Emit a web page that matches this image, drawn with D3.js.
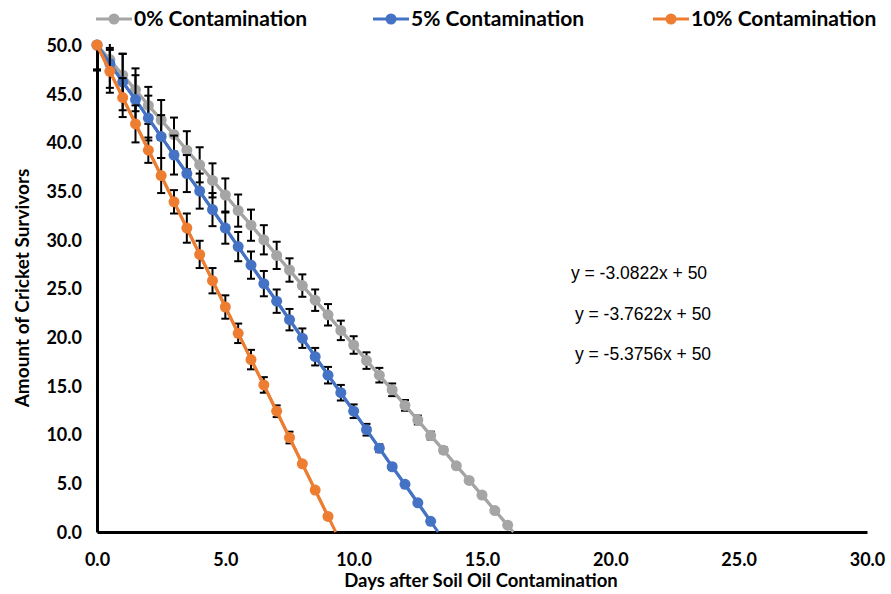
<!DOCTYPE html>
<html>
<head>
<meta charset="utf-8">
<script src="https://cdn.jsdelivr.net/npm/d3@7"></script>
<style>
  html, body { margin: 0; padding: 0; background: #fff; }
  svg { display: block; }
</style>
</head>
<body>
<script>
// ---------- DATA ----------
const seriesNames = ["0% Contamination", "5% Contamination", "10% Contamination"];
const seriesColors = ["#A5A5A5", "#4472C4", "#ED7D31"];

const days0 = [0,0.5,1,1.5,2,2.5,3,3.5,4,4.5,5,5.5,6,6.5,7,7.5,8,8.5,9,9.5,10,10.5,11,11.5,12,12.5,13,13.5,14,14.5,15,15.5,16];
const surv0 = [50.0,48.5,46.9,45.4,43.8,42.3,40.8,39.2,37.7,36.1,34.6,33.0,31.5,30.0,28.4,26.9,25.3,23.8,22.3,20.7,19.2,17.6,16.1,14.6,13.0,11.5,9.9,8.4,6.8,5.3,3.8,2.2,0.7];
const err0  = [2.6,1.2,2.2,2.2,1.9,2.05,1.75,1.95,1.8,1.75,1.7,1.65,1.6,1.5,1.4,1.2,1.15,1.1,1.1,1.0,0.9,0.85,0.75,0.65,0.55,0.45,0.4,0.3,0.2,0.15,0.1,0,0];

const days5 = [0,0.5,1,1.5,2,2.5,3,3.5,4,4.5,5,5.5,6,6.5,7,7.5,8,8.5,9,9.5,10,10.5,11,11.5,12,12.5,13];
const surv5 = [50.0,48.1,46.2,44.4,42.5,40.6,38.7,36.8,35.0,33.1,31.2,29.3,27.4,25.5,23.7,21.8,19.9,18.0,16.1,14.3,12.4,10.5,8.6,6.7,4.9,3.0,1.1];
const err5  = [2.5,2.5,2.9,2.5,2.3,2.2,2.0,1.9,1.8,1.7,1.6,1.5,1.4,1.3,1.2,1.1,1.0,0.9,0.85,0.8,0.7,0.6,0.4,0.3,0,0,0];

const days10 = [0,0.5,1,1.5,2,2.5,3,3.5,4,4.5,5,5.5,6,6.5,7,7.5,8,8.5,9];
const surv10 = [50.0,47.3,44.6,41.9,39.2,36.6,33.9,31.2,28.5,25.8,23.1,20.4,17.7,15.1,12.4,9.7,7.0,4.3,1.6];
const err10  = [2.6,2.2,2.0,1.9,1.3,1.8,1.2,1.5,1.4,1.3,1.2,1.0,1.0,0.8,0.6,0.6,0,0,0];

// linear trendlines (slope, intercept) and their labels
const trendSlopes = [-3.0822, -3.7622, -5.3756];
const trendIntercepts = [50, 50, 50];
const equationLabels = ["y = -3.0822x + 50", "y = -3.7622x + 50", "y = -5.3756x + 50"];

const xTicks = [0, 5, 10, 15, 20, 25, 30];
const yTicks = [0, 5, 10, 15, 20, 25, 30, 35, 40, 45, 50];

const xTitle = "Days after Soil Oil Contamination";
const yTitle = "Amount of Cricket Survivors";

// ---------- CHART ----------
const W = 891, H = 594;
const plot = { left: 97, right: 867, top: 45, bottom: 532 };
const FONT = "Lato, 'Open Sans', sans-serif";

const svg = d3.select("body").append("svg").attr("width", W).attr("height", H);

const x = d3.scaleLinear().domain([0, 30]).range([plot.left, plot.right]);
const y = d3.scaleLinear().domain([0, 50]).range([plot.bottom, plot.top]);

svg.append("defs").append("clipPath").attr("id", "plotclip")
  .append("rect").attr("x", plot.left - 10).attr("y", plot.top - 1)
  .attr("width", plot.right - plot.left + 20).attr("height", plot.bottom - plot.top + 1);

const series = [
  { days: days0, vals: surv0, errs: err0 },
  { days: days5, vals: surv5, errs: err5 },
  { days: days10, vals: surv10, errs: err10 }
];

// axes
const gx = svg.append("g").attr("transform", `translate(0,${plot.bottom})`)
  .call(d3.axisBottom(x).tickValues(xTicks).tickSize(0).tickSizeOuter(0).tickPadding(21).tickFormat(d3.format(".1f")));
const gy = svg.append("g").attr("transform", `translate(${plot.left},0)`)
  .call(d3.axisLeft(y).tickValues(yTicks).tickSize(0).tickSizeOuter(0).tickPadding(15).tickFormat(d3.format(".1f")));
[gx, gy].forEach(g => {
  g.select(".domain").attr("stroke", "#000").attr("stroke-width", 3);
  g.selectAll("text").attr("font-family", FONT).attr("font-weight", "bold")
    .attr("font-size", 18).attr("fill", "#000");
});
gy.selectAll("text").attr("dy", "0.35em");

const marks = svg.append("g");
series.forEach((s, si) => {
  const color = seriesColors[si];
  const g = marks.append("g");
  // error bars
  const eb = g.append("g").attr("clip-path", "url(#plotclip)")
    .attr("stroke", "#000").attr("stroke-width", 2);
  s.days.forEach((d, i) => {
    const e = s.errs[i];
    if (!e) return;
    const cx = x(d), y1 = y(s.vals[i] + e), y2 = y(s.vals[i] - e);
    eb.append("line").attr("x1", cx).attr("x2", cx).attr("y1", y1).attr("y2", y2);
    eb.append("line").attr("x1", cx - 4).attr("x2", cx + 4).attr("y1", y1).attr("y2", y1);
    eb.append("line").attr("x1", cx - 4).attr("x2", cx + 4).attr("y1", y2).attr("y2", y2);
  });
  // trendline from x=0 to where it meets the x axis
  const m = trendSlopes[si], b = trendIntercepts[si];
  const xEnd = -b / m;
  g.append("line").attr("x1", x(0)).attr("y1", y(b)).attr("x2", x(xEnd)).attr("y2", y(0))
    .attr("stroke", color).attr("stroke-width", 3);
  // series line
  const pts = s.days.map((d, i) => [d, s.vals[i]]);
  g.append("path").attr("d", d3.line().x(p => x(p[0])).y(p => y(p[1]))(pts))
    .attr("fill", "none").attr("stroke", color).attr("stroke-width", 3);
  // markers
  g.selectAll("circle").data(pts).join("circle")
    .attr("cx", p => x(p[0])).attr("cy", p => y(p[1])).attr("r", 5.5)
    .attr("fill", color);
});

// equations
const eqPos = [[639, 273], [643, 314], [643, 354]];
equationLabels.forEach((t, i) => {
  svg.append("text").attr("x", eqPos[i][0]).attr("y", eqPos[i][1]).attr("dy", "0.35em")
    .attr("text-anchor", "middle").attr("font-family", "'Liberation Sans', Arial, sans-serif")
    .attr("font-size", 17.5).attr("fill", "#000").text(t);
});

// axis titles
svg.append("text").attr("x", 481).attr("y", 581).attr("dy", "0.35em").attr("text-anchor", "middle")
  .attr("font-family", FONT).attr("font-weight", "bold").attr("font-size", 18.5).attr("fill", "#000")
  .text(xTitle);
svg.append("text").attr("transform", "translate(22,288) rotate(-90)").attr("dy", "0.35em")
  .attr("text-anchor", "middle").attr("font-family", FONT).attr("font-weight", "bold")
  .attr("font-size", 19).attr("fill", "#000").text(yTitle);

// legend
const legendX = [96, 373, 653];
const leg = svg.append("g");
seriesNames.forEach((n, i) => {
  const lg = leg.append("g").attr("transform", `translate(${legendX[i]},19)`);
  lg.append("line").attr("x1", 0).attr("x2", 36).attr("y1", 0).attr("y2", 0)
    .attr("stroke", seriesColors[i]).attr("stroke-width", 3);
  lg.append("circle").attr("cx", 18).attr("cy", 0).attr("r", 5.5).attr("fill", seriesColors[i]);
  lg.append("text").attr("x", 38).attr("y", 0).attr("dy", "0.35em")
    .attr("font-family", FONT).attr("font-weight", "bold").attr("font-size", 21)
    .attr("fill", "#000").text(n);
});
</script>
</body>
</html>
